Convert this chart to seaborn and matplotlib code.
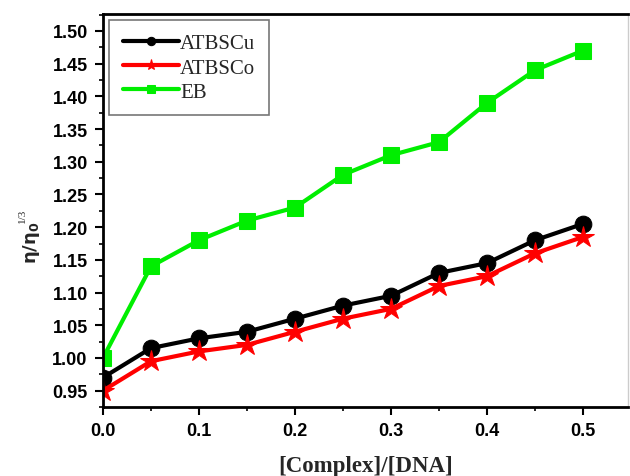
import matplotlib
matplotlib.use("Agg")
import matplotlib.pyplot as plt
import seaborn as sns
import pandas as pd
from matplotlib.ticker import MultipleLocator

ratio = [0.0, 0.05, 0.10, 0.15, 0.20, 0.25, 0.30, 0.35, 0.40, 0.45, 0.50]
atbscu = [0.970, 1.015, 1.030, 1.040, 1.060, 1.080, 1.095, 1.130, 1.145, 1.180, 1.205]
atbsco = [0.950, 0.995, 1.010, 1.020, 1.040, 1.060, 1.075, 1.110, 1.125, 1.160, 1.185]
eb = [1.000, 1.140, 1.180, 1.210, 1.230, 1.280, 1.310, 1.330, 1.390, 1.440, 1.470]

series_names = ["ATBSCu", "ATBSCo", "EB"]
colors = {"ATBSCu": "#000000", "ATBSCo": "#FF0000", "EB": "#00EE00"}
markers = {"ATBSCu": "o", "ATBSCo": "*", "EB": "s"}
msizes = {"ATBSCu": 12, "ATBSCo": 16, "EB": 11.5}

df = pd.DataFrame({
    "x": ratio * 3,
    "y": atbscu + atbsco + eb,
    "series": ["ATBSCu"] * len(ratio) + ["ATBSCo"] * len(ratio) + ["EB"] * len(ratio),
})

sns.set_style("ticks")
fig = plt.figure(figsize=(6.3, 4.77), dpi=100)
ax = fig.add_axes([0.1635, 0.1447, 0.8335, 0.8239])

for name in series_names:
    sub = df[df["series"] == name]
    sns.lineplot(data=sub, x="x", y="y", ax=ax, color=colors[name], lw=3,
                 marker=markers[name], markersize=msizes[name],
                 markeredgecolor=colors[name], label=name)

ax.set_xlim(0.0, 0.547)
ax.set_ylim(0.925, 1.526)
ax.xaxis.set_major_locator(MultipleLocator(0.1))
ax.xaxis.set_minor_locator(MultipleLocator(0.05))
ax.yaxis.set_major_locator(MultipleLocator(0.05))
ax.yaxis.set_minor_locator(MultipleLocator(0.025))
ax.xaxis.set_major_formatter(matplotlib.ticker.FormatStrFormatter("%.1f"))
ax.yaxis.set_major_formatter(matplotlib.ticker.FormatStrFormatter("%.2f"))
ax.tick_params(which="major", direction="out", length=6, width=1.5, colors="black", pad=5)
ax.tick_params(which="minor", direction="out", length=3, width=1.2, colors="black")
for lab in ax.get_xticklabels() + ax.get_yticklabels():
    lab.set_fontfamily("Liberation Sans")
    lab.set_fontweight("bold")
    lab.set_fontsize(13)

for side in ["left", "bottom", "top"]:
    ax.spines[side].set_linewidth(2)
    ax.spines[side].set_color("black")
ax.spines["right"].set_linewidth(1)
ax.spines["right"].set_color("#cccccc")

ax.set_xlabel("[Complex]/[DNA]", fontfamily="Liberation Serif", fontweight="bold",
              fontsize=16.5, labelpad=11)
ax.set_ylabel("")
fig.text(31 / 630, 1 - 243 / 477, r"$\mathbf{\eta/\eta_0}$", rotation=90,
         ha="center", va="center", fontsize=13)
fig.text(22 / 630, 1 - 216 / 477, "1/3", rotation=90, ha="center", va="center",
         fontsize=8, fontfamily="Liberation Serif")

leg = ax.legend(loc="upper left", bbox_to_anchor=(0.0, 1.0), borderaxespad=0.3,
                frameon=True, fancybox=False, handlelength=2.7, handletextpad=0.05,
                borderpad=0.65, labelspacing=0.22, markerscale=0.5,
                prop={"family": "Liberation Serif", "size": 15})
leg.get_frame().set_edgecolor("#555555")
leg.get_frame().set_linewidth(1.2)

fig.savefig("out.png", dpi=100)
